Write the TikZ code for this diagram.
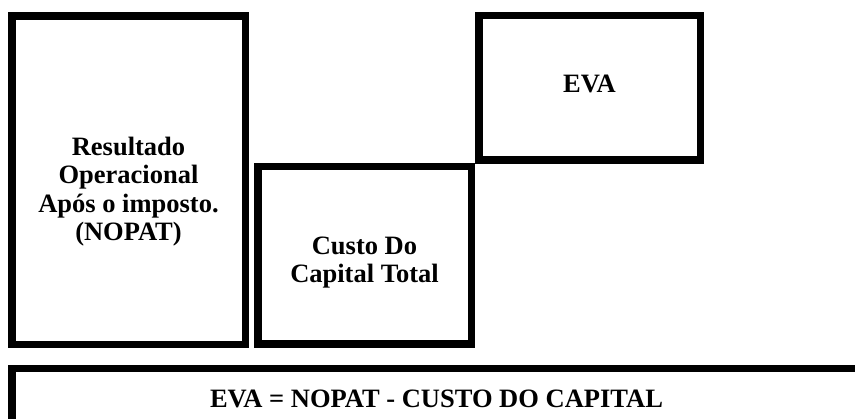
\documentclass[tikz,border=0pt]{standalone}
\usepackage{fontspec}
\setmainfont{Liberation Serif}
\begin{document}
\begin{tikzpicture}[x=1pt, y=-1pt]
        \tikzstyle{block} = [draw, rectangle, line width=7.5pt, inner sep=0pt, outer sep=0pt,
          font=\fontsize{26.5}{28.3}\selectfont\bfseries]

        \useasboundingbox (0,0) rectangle (855,419);
        \clip (0,0) rectangle (855,419);

        \node [block, anchor=base, minimum width=233.5pt, text height=182.5pt, text depth=146pt] (nopat) at (128.5,198.5) {%
          \begin{tabular}{c}
            Resultado\\
            Operacional\\
            Após o imposto.\\
            (NOPAT)
          \end{tabular}
        };
        \node [block, anchor=base, minimum width=213.5pt, text height=102.35pt, text depth=75.15pt] (custo) at (364.5,269.1) {%
          \begin{tabular}{c}
            Custo Do\\
            Capital Total
          \end{tabular}
        };
        \node [block, anchor=base, minimum width=221.5pt, text height=77.45pt, text depth=67.05pt] (eva) at (589.5,93.2) {%
          \begin{tabular}{c}
            EVA
          \end{tabular}
        };
        \node [block, anchor=base, minimum width=849.5pt, text height=38.75pt, text depth=60pt] (formula) at (436.5,407.5) {EVA = NOPAT - CUSTO DO CAPITAL};
    \end{tikzpicture}
\end{document}
